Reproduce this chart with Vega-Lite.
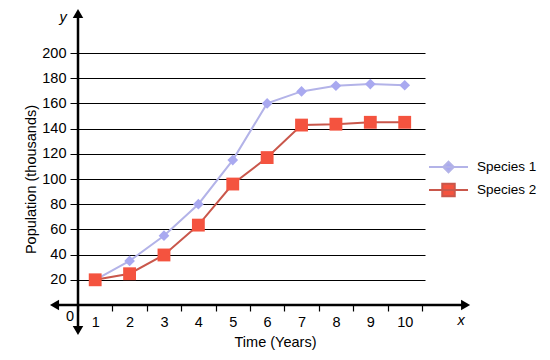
{
  "$schema": "https://vega.github.io/schema/vega-lite/v6.json",
  "width": 347,
  "height": 252,
  "autosize": {"type": "none"},
  "padding": {"left": 78, "top": 53, "right": 125, "bottom": 55},
  "background": "white",
  "config": {
    "view": {"stroke": null},
    "font": "Liberation Sans",
    "axis": {"labelFont": "Liberation Sans", "titleFont": "Liberation Sans"},
    "legend": {"labelFont": "Liberation Sans"}
  },
  "resolve": {"scale": {"shape": "independent", "size": "independent", "fill": "independent"}, "legend": {"shape": "independent"}},
  "datasets": {
    "pop": [
      {"year": 1, "species": "Species 1", "pop": 20},
      {"year": 2, "species": "Species 1", "pop": 35},
      {"year": 3, "species": "Species 1", "pop": 55},
      {"year": 4, "species": "Species 1", "pop": 80},
      {"year": 5, "species": "Species 1", "pop": 115},
      {"year": 6, "species": "Species 1", "pop": 160},
      {"year": 7, "species": "Species 1", "pop": 169.5},
      {"year": 8, "species": "Species 1", "pop": 174},
      {"year": 9, "species": "Species 1", "pop": 175.3},
      {"year": 10, "species": "Species 1", "pop": 174.4},
      {"year": 1, "species": "Species 2", "pop": 20},
      {"year": 2, "species": "Species 2", "pop": 24.8},
      {"year": 3, "species": "Species 2", "pop": 39.7},
      {"year": 4, "species": "Species 2", "pop": 63.4},
      {"year": 5, "species": "Species 2", "pop": 96},
      {"year": 6, "species": "Species 2", "pop": 117},
      {"year": 7, "species": "Species 2", "pop": 142.8},
      {"year": 8, "species": "Species 2", "pop": 143.5},
      {"year": 9, "species": "Species 2", "pop": 145},
      {"year": 10, "species": "Species 2", "pop": 145}
    ],
    "axislines": [
      {"x": -0.183, "x2": 11.77, "y": 0, "y2": 0},
      {"x": 0.5, "x2": 0.5, "y": -20.2, "y2": 231.3}
    ],
    "arrows": [
      {"x": -0.183, "y": 0, "dir": "left"},
      {"x": 11.77, "y": 0, "dir": "right"},
      {"x": 0.5, "y": 231.3, "dir": "up"},
      {"x": 0.5, "y": -20.2, "dir": "down"}
    ],
    "italicnotes": [
      {"x": 0.064, "y": 227.5, "t": "y"},
      {"x": 11.64, "y": -12.7, "t": "x"}
    ],
    "notes": [
      {"x": 0.267, "y": -9.5, "t": "0"}
    ]
  },
  "layer": [
    {
      "data": {"name": "pop"},
      "mark": {"type": "line", "interpolate": "linear", "strokeWidth": 2},
      "encoding": {
        "x": {
          "field": "year", "type": "quantitative",
          "scale": {"domain": [0.5, 10.59], "nice": false, "zero": false},
          "axis": {
            "values": [0.5, 1.5, 2.5, 3.5, 4.5, 5.5, 6.5, 7.5, 8.5, 9.5, 10.5],
            "tickCount": 20,
            "labelExpr": "datum.value < 10 ? format(datum.value + 0.5, 'd') : ''",
            "labelOffset": 17.2,
            "labelFlush": false,
            "labelOverlap": false,
            "domain": false,
            "grid": false,
            "ticks": true,
            "tickColor": "black",
            "tickSize": 6,
            "tickWidth": 1.2,
            "labelFontSize": 14.5,
            "labelColor": "black",
            "labelPadding": 4,
            "title": "Time (Years)",
            "titleX": 197,
            "titleFontSize": 14.5,
            "titleFontWeight": "normal",
            "titleColor": "black",
            "titlePadding": 7
          }
        },
        "y": {
          "field": "pop", "type": "quantitative",
          "scale": {"domain": [0, 200], "nice": false, "zero": false},
          "axis": {
            "values": [20, 40, 60, 80, 100, 120, 140, 160, 180, 200],
            "tickCount": 20,
            "labelOverlap": false,
            "domain": false,
            "grid": true,
            "gridColor": "black",
            "gridWidth": 1,
            "gridOpacity": 1,
            "tickColor": "black",
            "tickSize": 8,
            "tickWidth": 1,
            "labelFontSize": 14.5,
            "labelColor": "black",
            "labelPadding": 4,
            "title": "Population (thousands)",
            "titleFontSize": 14.5,
            "titleFontWeight": "normal",
            "titleColor": "black",
            "titlePadding": 3
          }
        },
        "color": {
          "field": "species", "type": "nominal",
          "scale": {"domain": ["Species 1", "Species 2"], "range": ["#b3b3e8", "#c9574b"]},
          "legend": {
            "title": null,
            "orient": "none",
            "legendX": 361.5,
            "legendY": 105,
            "padding": 0,
            "symbolSize": 256,
            "symbolStrokeWidth": 2,
            "labelFontSize": 13.5,
            "labelColor": "black",
            "labelOffset": 19.5,
            "rowPadding": 2,
            "encode": {
              "symbols": {
                "update": {
                  "shape": {"signal": "datum.value === 'Species 1' ? 'M-2.44,0H2.44M0,-0.66L0.66,0L0,0.66L-0.66,0Z' : 'M-2.44,0H2.44M-0.78,-0.78H0.78V0.78H-0.78Z'"},
                  "size": {"value": 256},
                  "fill": {"signal": "datum.value === 'Species 1' ? '#a9a9f0' : '#f4533f'"},
                  "stroke": {"signal": "datum.value === 'Species 1' ? '#b3b3e8' : '#c9574b'"},
                  "strokeWidth": {"value": 2},
                  "opacity": {"value": 1},
                  "fillOpacity": {"value": 1},
                  "strokeOpacity": {"value": 1}
                }
              }
            }
          }
        }
      }
    },
    {
      "data": {"name": "axislines"},
      "mark": {"type": "rule", "color": "black", "strokeWidth": 2.5},
      "encoding": {
        "x": {"field": "x", "type": "quantitative", "scale": {"domain": [0.5, 10.59], "nice": false, "zero": false}},
        "x2": {"field": "x2"},
        "y": {"field": "y", "type": "quantitative", "scale": {"domain": [0, 200], "nice": false, "zero": false}},
        "y2": {"field": "y2"}
      }
    },
    {
      "data": {"name": "arrows"},
      "mark": {"type": "point", "filled": true, "color": "black", "opacity": 1, "size": 110},
      "encoding": {
        "x": {"field": "x", "type": "quantitative", "scale": {"domain": [0.5, 10.59], "nice": false, "zero": false}},
        "y": {"field": "y", "type": "quantitative", "scale": {"domain": [0, 200], "nice": false, "zero": false}},
        "shape": {"field": "dir", "type": "nominal", "scale": {"domain": ["left", "right", "up", "down"], "range": ["triangle-left", "triangle-right", "triangle-up", "triangle-down"]}, "legend": null}
      }
    },
    {
      "data": {"name": "pop"},
      "mark": {"type": "point", "filled": true, "opacity": 1},
      "encoding": {
        "x": {"field": "year", "type": "quantitative", "scale": {"domain": [0.5, 10.59], "nice": false, "zero": false}},
        "y": {"field": "pop", "type": "quantitative", "scale": {"domain": [0, 200], "nice": false, "zero": false}},
        "fill": {"field": "species", "type": "nominal", "scale": {"domain": ["Species 1", "Species 2"], "range": ["#a9a9f0", "#f4533f"]}, "legend": null},
        "shape": {"field": "species", "type": "nominal", "scale": {"domain": ["Species 1", "Species 2"], "range": ["diamond", "square"]}, "legend": null},
        "size": {"field": "species", "type": "ordinal", "scale": {"domain": ["Species 1", "Species 2"], "range": [115, 165]}, "legend": null}
      }
    },
    {
      "data": {"name": "italicnotes"},
      "mark": {"type": "text", "fontStyle": "italic", "fontSize": 14.5, "color": "black", "baseline": "middle", "align": "center"},
      "encoding": {
        "x": {"field": "x", "type": "quantitative", "scale": {"domain": [0.5, 10.59], "nice": false, "zero": false}},
        "y": {"field": "y", "type": "quantitative", "scale": {"domain": [0, 200], "nice": false, "zero": false}},
        "text": {"field": "t"}
      }
    },
    {
      "data": {"name": "notes"},
      "mark": {"type": "text", "fontSize": 14.5, "color": "black", "baseline": "middle", "align": "center"},
      "encoding": {
        "x": {"field": "x", "type": "quantitative", "scale": {"domain": [0.5, 10.59], "nice": false, "zero": false}},
        "y": {"field": "y", "type": "quantitative", "scale": {"domain": [0, 200], "nice": false, "zero": false}},
        "text": {"field": "t"}
      }
    }
  ]
}
